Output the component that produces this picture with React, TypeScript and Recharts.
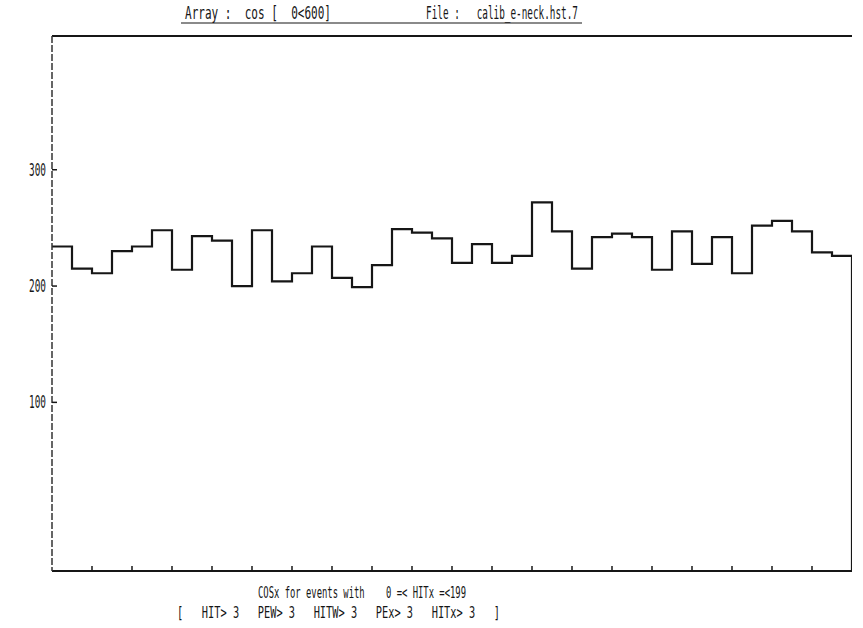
import React from 'react';
import { LineChart, Line, XAxis, YAxis } from 'recharts';

const xMin = 0;
const xMax = 600;
const binWidth = 15;
const yMin = -45;
const yMax = 415;

// histogram contents, one per 15-unit bin (40 bins over 0..600)
const counts = [
  234, 215, 211, 230, 234, 248, 214, 243, 239, 200,
  248, 204, 211, 234, 207, 199, 218, 249, 246, 241,
  220, 236, 220, 226, 272, 247, 215, 242, 245, 242,
  214, 247, 219, 242, 211, 252, 256, 247, 229, 226,
];

const yTicks = [100, 200, 300];
const xTicks = [30, 60, 90, 120, 150, 180, 210, 240, 270, 300, 330, 360, 390, 420, 450, 480, 510, 540, 570];

const titleLeft = 'Array :  cos [  0<600]';
const titleRight = 'File :   calib_e-neck.hst.7';
const footer1 = 'COSx for events with    0 =< HITx =<199';
const footer2 = '[   HIT> 3   PEW> 3   HITW> 3   PEx> 3   HITx> 3   ]';

const data = [
  ...counts.map((c, i) => ({ x: xMin + i * binWidth, y: c })),
  { x: xMax, y: yMin },
];

const FONT = '"DejaVu Sans Mono", "Liberation Mono", monospace';
const INK = '#161616';
const pre = { whiteSpace: 'pre' as const };

const YTick = (props: any) => {
  const { x, y, payload } = props;
  return (
    <g>
      <line x1={x} y1={y} x2={x + 5} y2={y} stroke={INK} strokeWidth={1.5} />
      <text
        x={x - 6}
        y={y}
        dy={6}
        textAnchor="end"
        textLength={17}
        lengthAdjust="spacingAndGlyphs"
        fontFamily={FONT}
        fontSize={18}
        fill={INK}
      >
        {payload.value}
      </text>
    </g>
  );
};

const XTick = (props: any) => {
  const { x, y } = props;
  return <line x1={x} y1={y} x2={x} y2={y - 5} stroke={INK} strokeWidth={1.5} />;
};

export default function App() {
  return (
    <div style={{ position: 'absolute', left: 0, top: 0, width: 863, height: 628, background: '#fff' }}>
      <LineChart
        width={863}
        height={628}
        data={data}
        margin={{ top: 35, right: 11, bottom: 56, left: 0 }}
      >
        <XAxis
          dataKey="x"
          type="number"
          domain={[xMin, xMax]}
          ticks={xTicks}
          height={1}
          tickSize={0}
          tickMargin={0}
          tickLine={false}
          tick={<XTick />}
          axisLine={{ stroke: INK, strokeWidth: 2 }}
          allowDataOverflow
        />
        <XAxis
          xAxisId="top"
          orientation="top"
          dataKey="x"
          type="number"
          domain={[xMin, xMax]}
          height={1}
          tick={false}
          tickLine={false}
          axisLine={{ stroke: INK, strokeWidth: 2 }}
        />
        <YAxis
          type="number"
          domain={[yMin, yMax]}
          ticks={yTicks}
          width={52}
          tickSize={0}
          tickMargin={0}
          tickLine={false}
          tick={<YTick />}
          axisLine={{ stroke: '#333', strokeWidth: 1.5, strokeDasharray: '7 2' }}
          allowDataOverflow
        />
        <Line
          type="stepAfter"
          dataKey="y"
          stroke={INK}
          strokeWidth={2.2}
          dot={false}
          isAnimationActive={false}
        />
      </LineChart>
      <svg
        width={863}
        height={628}
        style={{ position: 'absolute', left: 0, top: 0, pointerEvents: 'none' }}
      >
        <text x={185} y={19} style={pre} textLength={146} lengthAdjust="spacingAndGlyphs" fontFamily={FONT} fontSize={17} fill={INK}>
          {titleLeft}
        </text>
        <text x={426} y={19} style={pre} textLength={152} lengthAdjust="spacingAndGlyphs" fontFamily={FONT} fontSize={17} fill={INK}>
          {titleRight}
        </text>
        <line x1={181} y1={23} x2={582} y2={23} stroke={INK} strokeWidth={1.2} />
        <text x={258} y={598} style={pre} textLength={208} lengthAdjust="spacingAndGlyphs" fontFamily={FONT} fontSize={16} fill={INK}>
          {footer1}
        </text>
        <text x={177} y={618} style={pre} textLength={323} lengthAdjust="spacingAndGlyphs" fontFamily={FONT} fontSize={16} fill={INK}>
          {footer2}
        </text>
      </svg>
    </div>
  );
}
